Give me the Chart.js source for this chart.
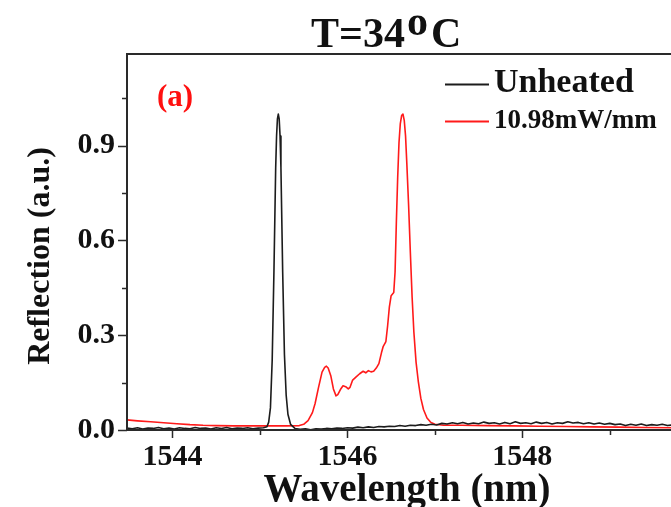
<!DOCTYPE html>
<html>
<head>
<meta charset="utf-8">
<script src="https://cdn.jsdelivr.net/npm/chart.js@4.4.1/dist/chart.umd.min.js"></script>
<style>
  html, body { margin: 0; padding: 0; background: #ffffff; overflow: hidden; }
  #wrap { width: 671px; height: 507px; }
</style>
</head>
<body>
<div id="wrap"><canvas id="spectrum" width="671" height="507"></canvas></div>
<script>
// Reflection spectra of the grating, unheated and heated (T = 34 °C)
const unheatedWavelength = [
  1543.48, 1543.54, 1543.60, 1543.66, 1543.72, 1543.78, 1543.84, 1543.90, 1543.96, 1544.02,
  1544.08, 1544.14, 1544.20, 1544.26, 1544.32, 1544.38, 1544.44, 1544.50, 1544.56, 1544.62,
  1544.68, 1544.74, 1544.80, 1544.86, 1544.92, 1544.98, 1545.04,
  1545.08, 1545.10, 1545.12, 1545.14, 1545.16, 1545.18, 1545.19, 1545.20, 1545.21, 1545.22,
  1545.23, 1545.24, 1545.26, 1545.28, 1545.30, 1545.32, 1545.35, 1545.40,
  1545.46, 1545.52, 1545.58, 1545.64, 1545.70, 1545.76, 1545.82, 1545.88, 1545.94, 1546.00,
  1546.06, 1546.12, 1546.18, 1546.24, 1546.30, 1546.36, 1546.42, 1546.48, 1546.54, 1546.60,
  1546.66, 1546.72, 1546.78, 1546.84, 1546.90, 1546.96, 1547.02, 1547.08, 1547.14, 1547.20,
  1547.26, 1547.32, 1547.38, 1547.44, 1547.50, 1547.56, 1547.62, 1547.68, 1547.74, 1547.80,
  1547.86, 1547.92, 1547.98, 1548.04, 1548.10, 1548.16, 1548.22, 1548.28, 1548.34, 1548.40,
  1548.46, 1548.52, 1548.58, 1548.64, 1548.70, 1548.76, 1548.82, 1548.88, 1548.94, 1549.00,
  1549.06, 1549.12, 1549.18, 1549.24, 1549.30, 1549.36, 1549.42, 1549.48, 1549.54, 1549.60,
  1549.66, 1549.72
];
const unheatedReflection = [
  0.006, 0.004, 0.007, 0.003, 0.006, 0.005, 0.008, 0.004, 0.006, 0.003,
  0.007, 0.005, 0.004, 0.008, 0.005, 0.006, 0.003, 0.007, 0.005, 0.008,
  0.004, 0.006, 0.005, 0.007, 0.004, 0.006, 0.007,
  0.010, 0.025, 0.070, 0.220, 0.500, 0.830, 0.930, 0.985, 1.000, 0.985,
  0.930, 0.830, 0.500, 0.240, 0.110, 0.050, 0.018, 0.005,
  0.002, 0.004, 0.001, 0.004, 0.003, 0.005, 0.004, 0.006, 0.005, 0.007,
  0.006, 0.009, 0.007, 0.010, 0.008, 0.011, 0.010, 0.012, 0.011, 0.014,
  0.012, 0.015, 0.014, 0.017, 0.015, 0.018, 0.016, 0.021, 0.019, 0.023,
  0.020, 0.024, 0.019, 0.022, 0.020, 0.025, 0.021, 0.023, 0.019, 0.024,
  0.020, 0.026, 0.021, 0.023, 0.020, 0.025, 0.021, 0.024, 0.019, 0.023,
  0.021, 0.026, 0.022, 0.024, 0.020, 0.023, 0.019, 0.022, 0.018, 0.021,
  0.017, 0.019, 0.014, 0.018, 0.015, 0.019, 0.014, 0.017, 0.015, 0.018,
  0.014, 0.016
];

const heatedWavelength = [
  1543.48, 1543.60, 1543.75, 1543.90, 1544.05, 1544.20, 1544.35, 1544.50, 1544.70, 1544.90,
  1545.10, 1545.30, 1545.45, 1545.50, 1545.55, 1545.60, 1545.63, 1545.67, 1545.71, 1545.74,
  1545.76, 1545.78, 1545.81, 1545.84, 1545.87, 1545.89, 1545.92, 1545.95, 1545.98, 1546.01,
  1546.03, 1546.06, 1546.10, 1546.14, 1546.18, 1546.21, 1546.24, 1546.27, 1546.30, 1546.33,
  1546.36, 1546.39, 1546.41, 1546.44, 1546.46, 1546.48, 1546.50, 1546.53, 1546.545, 1546.56,
  1546.575, 1546.59, 1546.605, 1546.62, 1546.635, 1546.65, 1546.665, 1546.68, 1546.70, 1546.72,
  1546.74, 1546.76, 1546.785, 1546.81, 1546.84, 1546.87, 1546.91, 1546.95, 1547.00, 1547.10,
  1547.30, 1547.60, 1547.90, 1548.20, 1548.50, 1548.80, 1549.10, 1549.40, 1549.72
];
const heatedReflection = [
  0.032, 0.029, 0.026, 0.023, 0.020, 0.017, 0.015, 0.014, 0.013, 0.013,
  0.013, 0.013, 0.014, 0.018, 0.030, 0.055, 0.083, 0.135, 0.183, 0.198,
  0.202, 0.196, 0.172, 0.130, 0.108, 0.112, 0.128, 0.140, 0.137, 0.130,
  0.135, 0.158, 0.168, 0.178, 0.186, 0.181, 0.188, 0.184, 0.186, 0.196,
  0.210, 0.245, 0.265, 0.280, 0.330, 0.390, 0.425, 0.435, 0.500, 0.660,
  0.800, 0.910, 0.970, 0.995, 1.000, 0.980, 0.930, 0.840, 0.710, 0.560,
  0.420, 0.310, 0.215, 0.155, 0.100, 0.065, 0.038, 0.025, 0.018, 0.015,
  0.015, 0.014, 0.013, 0.012, 0.011, 0.010, 0.009, 0.008, 0.007
];

const xTickValues = [1544, 1545, 1546, 1547, 1548, 1549];
const xTickLabels = ['1544', '1546', '1548'];
const yTickValues = [0, 0.15, 0.3, 0.45, 0.6, 0.75, 0.9, 1.05];
const yTickLabels = ['0.0', '0.3', '0.6', '0.9'];
const seriesNames = ['Unheated', '10.98mW/mm'];
const seriesColors = ['#1c1c1c', '#ff1a1a'];
const titleParts = ['T=34', 'o', 'C'];
const panelTag = '(a)';
const xAxisTitle = 'Wavelength (nm)';
const yAxisTitle = 'Reflection (a.u.)';

const SERIF = '"Liberation Serif", "Times New Roman", serif';

function toPoints(xs, ys) {
  return xs.map((x, i) => ({ x: x, y: ys[i] }));
}

function xLabel(v) {
  const s = String(v);
  return xTickLabels.includes(s) ? s : '';
}

function yLabel(v) {
  const s = v.toFixed(1);
  return yTickLabels.includes(s) ? s : '';
}

// Frame, tick marks, titles, legend and panel tag
const decorations = {
  id: 'decorations',
  afterDraw(chart) {
    const { ctx, chartArea: a, scales } = chart;
    const xs = scales.x, ys = scales.y;
    ctx.save();

    // axes frame (left, bottom, top)
    ctx.strokeStyle = '#2a2a2a';
    ctx.lineWidth = 2;
    ctx.beginPath();
    ctx.moveTo(a.left, a.bottom); ctx.lineTo(a.left, a.top); ctx.lineTo(a.right, a.top);
    ctx.moveTo(a.left, a.bottom); ctx.lineTo(a.right, a.bottom);
    ctx.stroke();

    // outward tick marks: long at labelled values, short in between
    ctx.lineWidth = 1.5;
    ctx.beginPath();
    xs.ticks.forEach(t => {
      const px = Math.round(xs.getPixelForValue(t.value)) + 0.5;
      const len = xLabel(t.value) ? 8 : 5;
      ctx.moveTo(px, a.bottom); ctx.lineTo(px, a.bottom + len);
    });
    ys.ticks.forEach(t => {
      const py = Math.round(ys.getPixelForValue(t.value)) + 0.5;
      const len = yLabel(t.value) ? 9 : 5;
      ctx.moveTo(a.left, py); ctx.lineTo(a.left - len, py);
    });
    ctx.stroke();

    ctx.fillStyle = '#111111';
    ctx.textBaseline = 'alphabetic';

    // title with raised degree "o"
    ctx.font = 'bold 42px ' + SERIF;
    ctx.textAlign = 'left';
    let tx = 311;
    ctx.fillText(titleParts[0], tx, 47);
    tx += ctx.measureText(titleParts[0]).width + 2;
    ctx.fillText(titleParts[1], tx, 35);
    tx += ctx.measureText(titleParts[1]).width + 3;
    ctx.fillText(titleParts[2], tx, 47);

    // x axis title
    ctx.font = 'bold 39px ' + SERIF;
    ctx.textAlign = 'center';
    ctx.fillText(xAxisTitle, 407, 501);

    // y axis title
    ctx.save();
    ctx.translate(49, 256);
    ctx.rotate(-Math.PI / 2);
    ctx.font = 'bold 32px ' + SERIF;
    ctx.textAlign = 'center';
    ctx.fillText(yAxisTitle, 0, 0);
    ctx.restore();

    // panel tag
    ctx.fillStyle = '#ff1010';
    ctx.font = 'bold 31px ' + SERIF;
    ctx.textAlign = 'left';
    ctx.fillText(panelTag, 157, 106);

    // legend
    const rows = [
      { y: 84.5, base: 92, size: 34 },
      { y: 121.5, base: 128, size: 27 }
    ];
    rows.forEach((r, i) => {
      ctx.strokeStyle = seriesColors[i];
      ctx.lineWidth = 2;
      ctx.beginPath();
      ctx.moveTo(445, r.y); ctx.lineTo(489, r.y);
      ctx.stroke();
      ctx.fillStyle = '#111111';
      ctx.font = 'bold ' + r.size + 'px ' + SERIF;
      ctx.textAlign = 'left';
      ctx.fillText(seriesNames[i], 494, r.base);
    });

    ctx.restore();
  }
};

new Chart(document.getElementById('spectrum'), {
  type: 'scatter',
  data: {
    datasets: [
      {
        label: seriesNames[0],
        data: toPoints(unheatedWavelength, unheatedReflection),
        showLine: true,
        borderColor: seriesColors[0],
        borderWidth: 1.6,
        borderJoinStyle: 'round',
        borderCapStyle: 'round',
        pointRadius: 0,
        tension: 0
      },
      {
        label: seriesNames[1],
        data: toPoints(heatedWavelength, heatedReflection),
        showLine: true,
        borderColor: seriesColors[1],
        borderWidth: 1.6,
        borderJoinStyle: 'round',
        borderCapStyle: 'round',
        pointRadius: 0,
        tension: 0
      }
    ]
  },
  options: {
    responsive: false,
    animation: false,
    devicePixelRatio: 1,
    layout: { padding: { top: 54, right: 0, bottom: 0, left: 0 } },
    plugins: {
      legend: { display: false },
      title: { display: false },
      tooltip: { enabled: false }
    },
    scales: {
      x: {
        type: 'linear',
        min: 1543.48,
        max: 1549.70,
        border: { display: false },
        grid: { display: true, drawOnChartArea: false, drawTicks: false, color: 'rgba(0,0,0,0)' },
        afterBuildTicks(scale) {
          scale.ticks = xTickValues.map(v => ({ value: v }));
        },
        afterFit(scale) { scale.height = 77; },
        ticks: {
          autoSkip: false,
          maxRotation: 0,
          padding: 9,
          color: '#111111',
          font: { family: SERIF, size: 30, weight: 'bold' },
          callback: xLabel
        }
      },
      y: {
        type: 'linear',
        min: 0,
        max: 1.19,
        border: { display: false },
        grid: { display: true, drawOnChartArea: false, drawTicks: false, color: 'rgba(0,0,0,0)' },
        afterBuildTicks(scale) {
          scale.ticks = yTickValues.map(v => ({ value: v }));
        },
        afterFit(scale) { scale.width = 127; },
        ticks: {
          autoSkip: false,
          padding: 12,
          color: '#111111',
          font: { family: SERIF, size: 30, weight: 'bold' },
          callback: yLabel
        }
      }
    }
  },
  plugins: [decorations]
});
</script>
</body>
</html>
